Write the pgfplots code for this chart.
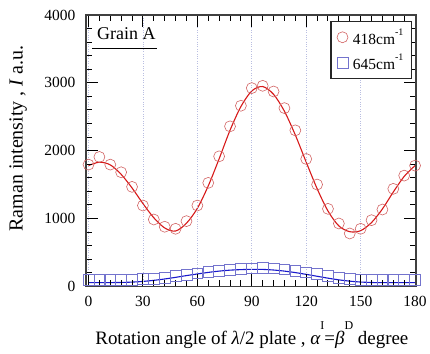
\documentclass[border=0pt]{standalone}
\usepackage{fontspec}
\setmainfont{Liberation Serif}
\usepackage{pgfplots}
\pgfplotsset{compat=1.18}
\definecolor{cred}{RGB}{215,25,25}
\definecolor{cmred}{RGB}{210,100,100}
\definecolor{cblue}{RGB}{25,25,205}
\definecolor{cmblue}{RGB}{115,115,205}
\definecolor{cgrid}{RGB}{185,190,225}
\newcommand{\supx}[1]{\raisebox{0.6em}{\fontsize{10}{10}\selectfont #1}}
\begin{document}
\begin{tikzpicture}
\begin{axis}[
 scale only axis, width=331pt, height=272pt,
 at={(0,0)}, anchor=south west,
 xmin=-1.5, xmax=180.5, ymin=0, ymax=4000,
 xtick={0,30,...,180}, minor x tick num=4,
 ytick={0,1000,...,4000}, minor y tick num=4,
 xtick pos=both, ytick pos=both,
 tick align=inside, major tick length=12pt, minor tick length=6pt,
 xtick style={color=black, line width=1pt},
 ytick style={color=black, line width=1pt},
 axis on top,
 axis line style={draw=black!75, line width=1.5pt},
 xmajorgrids, grid style={dotted, cgrid, line width=0.7pt},
 /pgf/number format/assume math mode=true,
 scaled y ticks=false, yticklabel style={/pgf/number format/1000 sep={}},
 ticklabel style={font=\fontsize{15.5}{15.5}\selectfont},
 xticklabel style={yshift=-6pt}, yticklabel style={xshift=-7pt},
 xlabel={Rotation angle of {\itshape λ}/2 plate , {\itshape α}\raisebox{0.75em}{\fontsize{12}{12}\selectfont I}={\itshape β}\raisebox{0.75em}{\fontsize{12}{12}\selectfont D} degree},
 ylabel={Raman intensity , {\itshape I} a.u.},
 xlabel style={font=\fontsize{19}{19}\selectfont, at={(axis description cs:0.503,-0.213)}, anchor=base},
 ylabel style={font=\fontsize{20}{20}\selectfont, at={(axis description cs:-0.205,0.544)}, anchor=center},
 legend style={at={(1,1)}, anchor=north east, xshift=-4pt, yshift=-6pt, draw=black!85, line width=1.3pt, font=\fontsize{15.5}{15.5}\selectfont, inner xsep=6pt, inner ysep=5pt, row sep=4pt},
 legend cell align=left,
]
\addplot[cred, line width=1.1pt, smooth, forget plot] coordinates {
(0,1780)(6,1830)(12,1790)(18,1650)(24,1450)(30,1220)(36,1010)(42,860)(48,815)(54,930)
(60,1150)(66,1480)(72,1880)(78,2300)(84,2650)(90,2880)(96,2945)(102,2830)(108,2580)(114,2230)
(120,1830)(126,1440)(132,1110)(138,890)(144,805)(150,820)(156,940)(162,1140)(168,1390)(174,1620)(180,1780)};
\addplot[cblue, line width=1.1pt, smooth, forget plot] coordinates {
(0,55)(6,55)(12,55)(18,57)(24,62)(30,72)(36,88)(42,108)(48,132)(54,158)
(60,182)(66,205)(72,224)(78,238)(84,246)(90,250)(96,249)(102,240)(108,224)(114,202)
(120,176)(126,148)(132,120)(138,95)(144,76)(150,63)(156,56)(162,54)(168,54)(174,54)(180,55)};
\addplot[only marks, mark=o, mark size=5.5pt, mark options={cmred, line width=0.6pt}] coordinates {
(0,1794)(6,1907)(12,1794)(18,1681)(24,1466)(30,1191)(36,985)(42,878)(48,848)(54,961)
(60,1191)(66,1525)(72,1916)(78,2358)(84,2662)(90,2922)(96,2956)(102,2872)(108,2627)(114,2299)
(120,1877)(126,1500)(132,1142)(138,926)(144,779)(150,848)(156,975)(162,1132)(168,1437)(174,1632)(180,1779)};
\addlegendentry{\hspace{3pt}418cm\supx{-1}}
\addplot[only marks, mark=square, mark size=5.4pt, mark options={cmblue, line width=0.7pt}] coordinates {
(0,100)(6,95)(12,95)(18,95)(24,100)(30,105)(36,110)(42,130)(48,150)(54,170)
(60,190)(66,210)(72,230)(78,245)(84,255)(90,265)(96,270)(102,265)(108,250)(114,230)
(120,205)(126,180)(132,150)(138,130)(144,110)(150,95)(156,90)(162,90)(168,90)(174,95)(180,100)};
\addlegendentry{\hspace{3pt}645cm\supx{-1}}
\node[anchor=base west, font=\fontsize{18}{18}\selectfont, inner sep=0pt] (g) at (axis cs:4.7,3635) {Grain A};
\draw[black, line width=1.2pt] ([xshift=-5pt,yshift=-8.5pt]g.base west) -- ([xshift=1pt,yshift=-8.5pt]g.base east);
\end{axis}
\path (-86pt,-67pt) rectangle (344pt,287pt);
\end{tikzpicture}
\end{document}
